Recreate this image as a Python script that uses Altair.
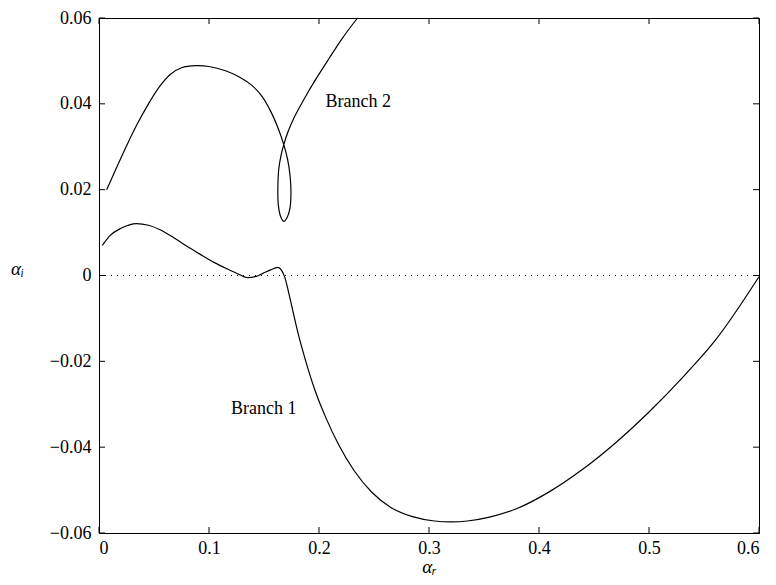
import altair as alt
import pandas as pd

# Branch 1 (lower curve)
b1_x = [0.003, 0.01, 0.02, 0.034, 0.045, 0.056, 0.068, 0.08, 0.091, 0.105, 0.116, 0.127, 0.135, 0.143,
        0.149, 0.156, 0.1626, 0.166, 0.169, 0.172, 0.176, 0.181, 0.188, 0.196, 0.206, 0.218,
        0.232, 0.248, 0.265, 0.285, 0.305, 0.32, 0.335, 0.355, 0.38, 0.41, 0.44, 0.47, 0.5,
        0.53, 0.56, 0.6]
b1_y = [0.007, 0.0093, 0.011, 0.0121, 0.0117, 0.0106, 0.0088, 0.0068, 0.0051, 0.003, 0.0016, 0.0003,
        -0.0005, -0.0002, 0.0005, 0.0013, 0.0019, 0.0012, -0.0005, -0.0035, -0.008, -0.0135, -0.02,
        -0.0265, -0.033, -0.0395, -0.0455, -0.0505, -0.054, -0.0562, -0.0572, -0.0574, -0.0572,
        -0.0563, -0.0543, -0.0503, -0.0451, -0.0389, -0.0318, -0.0239, -0.0152, -0.0003]

# Branch 2 (upper curve with loop), in drawing order
b2_x = [0.007, 0.015, 0.025, 0.035, 0.045, 0.055, 0.065, 0.075, 0.088, 0.1, 0.115, 0.128, 0.139,
        0.148, 0.156, 0.163, 0.168, 0.1715, 0.1738, 0.1745, 0.1735, 0.171, 0.168, 0.165, 0.163,
        0.1626, 0.1635, 0.1655, 0.168, 0.172, 0.177, 0.183, 0.19, 0.199, 0.209, 0.221, 0.235]
b2_y = [0.020, 0.0246, 0.0302, 0.0354, 0.0400, 0.0440, 0.0469, 0.0484, 0.0489, 0.0487, 0.0477,
        0.0462, 0.0443, 0.0418, 0.0383, 0.0342, 0.0305, 0.027, 0.023, 0.019, 0.0155, 0.0135, 0.0126,
        0.0138, 0.0165, 0.0205, 0.025, 0.028, 0.0305, 0.0336, 0.0366, 0.0395, 0.0427, 0.0465,
        0.0505, 0.0552, 0.06]

x_ticks = [0, 0.1, 0.2, 0.3, 0.4, 0.5, 0.6]
y_ticks = [-0.06, -0.04, -0.02, 0, 0.02, 0.04, 0.06]

label_text = ["Branch 1", "Branch 2"]
label_x = [0.12, 0.206]
label_y = [-0.031, 0.0405]

W, H = 660, 515
FONT = "Liberation Serif"
FS = 18

df1 = pd.DataFrame({"x": b1_x, "y": b1_y, "i": range(len(b1_x))})
df2 = pd.DataFrame({"x": b2_x, "y": b2_y, "i": range(len(b2_x))})
xt = pd.DataFrame({"v": x_ticks})
yt = pd.DataFrame({"v": y_ticks})
lab = pd.DataFrame({"t": label_text, "x": label_x, "y": label_y})

xs = alt.Scale(domain=[0, 0.6], nice=False, zero=False)
ys = alt.Scale(domain=[-0.06, 0.06], nice=False, zero=False)

x_axis = alt.Axis(values=x_ticks, ticks=False, grid=False, domain=True, domainColor="black",
                  labelFont=FONT, labelFontSize=FS, labelColor="black", labelPadding=6,
                  title="αᵣ", titleFont=FONT, titleFontSize=FS + 1, titleFontStyle="italic",
                  titleFontWeight="normal", titleColor="black", titlePadding=0,
                  labelExpr="datum.value == 0 ? '0' : format(datum.value, '.1f')")
y_axis = alt.Axis(values=y_ticks, ticks=False, grid=False, domain=True, domainColor="black",
                  labelFont=FONT, labelFontSize=FS, labelColor="black", labelPadding=8,
                  title="αᵢ", titleFont=FONT, titleFontSize=FS + 1, titleFontStyle="italic",
                  titleFontWeight="normal", titleColor="black", titleAngle=0,
                  titleX=-82, titleY=250, titleAlign="center", titleBaseline="middle",
                  labelExpr="datum.value == 0 ? '0' : format(datum.value, '.2f')")

base1 = alt.Chart(df1).mark_line(color="black", strokeWidth=1.2, interpolate="monotone").encode(
    x=alt.X("x:Q", scale=xs, axis=x_axis),
    y=alt.Y("y:Q", scale=ys, axis=y_axis),
    order="i:Q",
)
base2 = alt.Chart(df2).mark_line(color="black", strokeWidth=1.2, interpolate="catmull-rom").encode(
    x=alt.X("x:Q", scale=xs),
    y=alt.Y("y:Q", scale=ys),
    order="i:Q",
)

zero = alt.Chart(pd.DataFrame({"a": [0], "b": [0.6], "y": [0]})).mark_rule(
    color="black", strokeWidth=1, strokeDash=[1, 5]).encode(
    x=alt.X("a:Q", scale=xs), x2="b:Q", y=alt.Y("y:Q", scale=ys))

TL = 6
tick_left = alt.Chart(yt).mark_rule(color="black", strokeWidth=1).encode(
    y=alt.Y("v:Q", scale=ys), x=alt.value(0), x2=alt.value(TL))
tick_right = alt.Chart(yt).mark_rule(color="black", strokeWidth=1).encode(
    y=alt.Y("v:Q", scale=ys), x=alt.value(W), x2=alt.value(W - TL))
tick_bottom = alt.Chart(xt).mark_rule(color="black", strokeWidth=1).encode(
    x=alt.X("v:Q", scale=xs), y=alt.value(H), y2=alt.value(H - TL))
tick_top = alt.Chart(xt).mark_rule(color="black", strokeWidth=1).encode(
    x=alt.X("v:Q", scale=xs), y=alt.value(0), y2=alt.value(TL))

labels = alt.Chart(lab).mark_text(align="left", baseline="middle", font=FONT, fontSize=FS,
                                  color="black").encode(
    x=alt.X("x:Q", scale=xs), y=alt.Y("y:Q", scale=ys), text="t:N")

chart = alt.layer(zero, base1, base2, tick_left, tick_right, tick_bottom, tick_top, labels).properties(
    width=W, height=H,
    autosize=alt.AutoSizeParams(type="none"),
    padding={"left": 91, "top": 10, "right": 8, "bottom": 45},
    background="white",
).configure_view(stroke="black", strokeWidth=1)

chart.save("out.html", embed_options={"renderer": "svg", "actions": False})
